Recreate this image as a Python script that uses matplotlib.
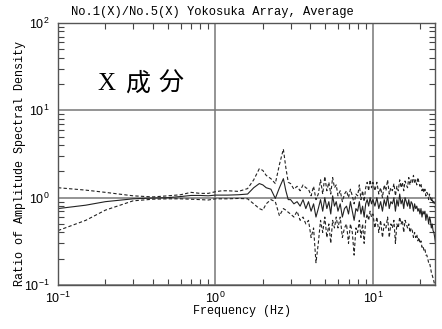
import matplotlib
matplotlib.use("Agg")
import matplotlib.pyplot as plt
import numpy as np
from matplotlib.ticker import LogLocator, NullFormatter

plt.rcParams['mathtext.fontset'] = 'custom'
plt.rcParams['mathtext.rm'] = 'Liberation Sans'
plt.rcParams['mathtext.it'] = 'Liberation Sans'
plt.rcParams['mathtext.bf'] = 'Liberation Sans'
plt.rcParams['mathtext.default'] = 'rm'

# ---------------- data ----------------
freq_low = [0.1, 0.15, 0.2, 0.3, 0.4, 0.5, 0.6, 0.7, 0.8, 0.9, 1.0, 1.1, 1.2, 1.4, 1.6,
            1.75, 1.9, 2.0, 2.1, 2.25, 2.4, 2.55, 2.7, 2.8, 2.9]
mean_low = [0.75, 0.82, 0.9, 0.97, 0.99, 1.0, 1.03, 1.06, 1.06, 1.05, 1.07, 1.07, 1.07, 1.08, 1.1,
            1.3, 1.45, 1.4, 1.3, 1.25, 0.98, 1.3, 1.65, 1.2, 0.95]
upper_low = [1.3, 1.22, 1.15, 1.05, 1.02, 1.05, 1.08, 1.15, 1.12, 1.12, 1.17, 1.2, 1.2, 1.18, 1.27,
             1.6, 2.15, 2.05, 1.8, 1.65, 1.45, 2.4, 3.6, 2.2, 1.5]
lower_low = [0.42, 0.55, 0.72, 0.92, 0.96, 0.97, 0.97, 0.96, 0.95, 0.94, 0.97, 0.97, 0.97, 0.98, 0.97,
             0.85, 0.75, 0.72, 0.85, 0.95, 0.9, 0.62, 0.75, 0.72, 0.68]

freq_mid = [3.0, 3.15, 3.3, 3.45, 3.6, 3.75, 3.9, 4.05, 4.2, 4.35, 4.5, 4.65, 4.8, 4.95, 5.1, 5.25,
            5.4, 5.55, 5.7, 5.85, 6.0, 6.2, 6.4, 6.6, 6.8, 7.0, 7.2, 7.4, 7.6, 7.8, 8.0, 8.2, 8.4,
            8.6, 8.8, 9.0, 9.2, 9.4, 9.6, 9.8, 10.0]
mean_mid = [0.95, 0.85, 0.9, 0.8, 0.95, 0.75, 0.9, 0.7, 0.85, 0.6, 0.75, 0.95, 0.7, 1.0, 0.75, 0.9,
            0.65, 1.05, 0.8, 0.9, 0.7, 0.85, 0.6, 0.75, 0.8, 0.65, 0.9, 0.7, 0.55, 0.75, 0.7, 0.9,
            0.65, 0.8, 0.6, 0.85, 0.95, 0.8, 1.0, 0.85, 0.95]
upper_mid = [1.45, 1.25, 1.35, 1.2, 1.4, 1.3, 1.25, 1.05, 1.35, 0.95, 1.1, 1.6, 1.1, 1.75, 1.2, 1.5,
             1.1, 1.7, 1.3, 1.4, 1.05, 1.2, 0.9, 1.1, 1.2, 1.0, 1.25, 1.05, 0.85, 1.1, 1.05, 1.4,
             0.95, 1.2, 0.9, 1.3, 1.5, 1.2, 1.6, 1.3, 1.5]
lower_mid = [0.65, 0.6, 0.7, 0.55, 0.6, 0.5, 0.55, 0.35, 0.45, 0.18, 0.3, 0.55, 0.4, 0.6, 0.35, 0.5,
             0.3, 0.55, 0.45, 0.6, 0.45, 0.6, 0.35, 0.45, 0.5, 0.3, 0.5, 0.4, 0.22, 0.45, 0.4, 0.55,
             0.35, 0.5, 0.3, 0.55, 0.65, 0.55, 0.7, 0.6, 0.65]

freq_high = [10.3, 10.6, 10.9, 11.2, 11.5, 11.8, 12.1, 12.4, 12.7, 13.0, 13.3, 13.6, 13.9, 14.2,
             14.5, 14.8, 15.1, 15.4, 15.7, 16.0, 16.3, 16.6, 16.9, 17.2, 17.5, 17.8, 18.1, 18.4,
             18.7, 19.0, 19.3, 19.6, 19.9, 20.2, 20.5, 20.8, 21.1, 21.4, 21.7, 22.0, 22.3, 22.6,
             22.9, 23.2, 23.5, 23.8, 24.1, 24.4, 24.7, 25.0]
mean_high = [0.8, 1.0, 0.75, 0.9, 0.7, 0.95, 0.8, 1.05, 0.75, 0.9, 0.85, 1.0, 0.7, 0.95, 0.8, 1.1,
             0.85, 0.95, 0.75, 1.0, 0.9, 0.8, 0.95, 0.75, 0.9, 0.85, 0.7, 0.85, 0.75, 0.8, 0.7,
             0.75, 0.65, 0.75, 0.6, 0.7, 0.65, 0.7, 0.55, 0.65, 0.6, 0.5, 0.6, 0.55, 0.45, 0.5,
             0.42, 0.4, 0.35, 0.3]
upper_high = [1.2, 1.5, 1.1, 1.3, 1.0, 1.4, 1.2, 1.6, 1.1, 1.3, 1.2, 1.45, 1.05, 1.35, 1.2, 1.6,
              1.3, 1.5, 1.2, 1.55, 1.4, 1.3, 1.7, 1.4, 1.6, 1.5, 1.8, 1.45, 1.6, 1.4, 1.7, 1.5,
              1.35, 1.45, 1.2, 1.3, 1.15, 1.25, 1.05, 1.15, 1.1, 0.95, 1.1, 1.0, 0.9, 1.0, 0.85,
              0.9, 0.8, 0.75]
lower_high = [0.45, 0.6, 0.4, 0.55, 0.35, 0.5, 0.45, 0.6, 0.35, 0.5, 0.45, 0.55, 0.3, 0.5, 0.45,
              0.6, 0.5, 0.55, 0.4, 0.55, 0.5, 0.45, 0.5, 0.4, 0.45, 0.42, 0.35, 0.4, 0.35, 0.38,
              0.32, 0.35, 0.3, 0.32, 0.27, 0.28, 0.25, 0.26, 0.22, 0.22, 0.2, 0.18, 0.18, 0.16,
              0.14, 0.13, 0.12, 0.11, 0.1, 0.08]

freq = freq_low + freq_mid + freq_high
mean_ratio = mean_low + mean_mid + mean_high
upper_ratio = upper_low + upper_mid + upper_high
lower_ratio = lower_low + lower_mid + lower_high

x_ticks = [0.1, 1, 10]
x_ticklabels = [r'$10^{-1}$', r'$10^{0}$', r'$10^{1}$']
y_ticks = [0.1, 1, 10, 100]
y_ticklabels = [r'$10^{-1}$', r'$10^{0}$', r'$10^{1}$', r'$10^{2}$']

# ---------------- figure ----------------
fig = plt.figure(figsize=(4.42, 3.29), dpi=100)
ax = fig.add_axes([58/442, 1 - 285/329, (435-58)/442, (285-23)/329])

mono = 'Liberation Mono'
ax.plot(freq, mean_ratio, color='#222222', lw=0.8)
ax.plot(freq, upper_ratio, color='#222222', lw=0.8, ls=(0, (3, 2)))
ax.plot(freq, lower_ratio, color='#222222', lw=0.8, ls=(0, (3, 2)))

ax.set_xscale('log')
ax.set_yscale('log')
ax.set_xlim(0.1, 24.8)
ax.set_ylim(0.1, 100)

ax.set_xticks(x_ticks)
ax.set_xticklabels(x_ticklabels, fontsize=9)
ax.set_yticks(y_ticks)
ax.set_yticklabels(y_ticklabels, fontsize=9)
ax.xaxis.set_minor_locator(LogLocator(base=10, subs=np.arange(2, 10)))
ax.yaxis.set_minor_locator(LogLocator(base=10, subs=np.arange(2, 10)))
ax.xaxis.set_minor_formatter(NullFormatter())
ax.yaxis.set_minor_formatter(NullFormatter())

ax.tick_params(which='both', direction='in', top=True, right=True, color='#444444')
ax.tick_params(axis='x', which='major', length=0, pad=4)
ax.tick_params(axis='y', which='major', length=0, pad=6)
ax.tick_params(which='minor', length=4, width=0.8)

ax.grid(True, which='major', color='#777777', lw=1.1)
for s in ax.spines.values():
    s.set_color('#555555')
    s.set_linewidth(1.0)

ax.set_xlabel('Frequency (Hz)', fontfamily=mono, fontsize=8.5)
ax.xaxis.set_label_coords(242/442, 1 - 311/329, transform=fig.transFigure)
ax.set_ylabel('Ratio of Amplitude Spectral Density', fontfamily=mono, fontsize=8.5)
ax.yaxis.set_label_coords(20/442, 1 - 163/329, transform=fig.transFigure)
ax.yaxis.label.set_va('center')
ax.xaxis.label.set_va('center')

fig.text(212/442, 1 - 12/329, 'No.1(X)/No.5(X) Yokosuka Array, Average',
         fontfamily=mono, fontsize=8.7, ha='center', va='center')

cjk_fam = ['Liberation Serif', 'Noto Sans CJK JP']
fig.text(106/442, 1 - 84/329, 'X', family=cjk_fam, fontsize=18, ha='center', va='center')
fig.text(138/442, 1 - 84/329, '成', family=cjk_fam, fontsize=18, ha='center', va='center')
fig.text(171/442, 1 - 84/329, '分', family=cjk_fam, fontsize=18, ha='center', va='center')

fig.savefig('out.png', dpi=100)
